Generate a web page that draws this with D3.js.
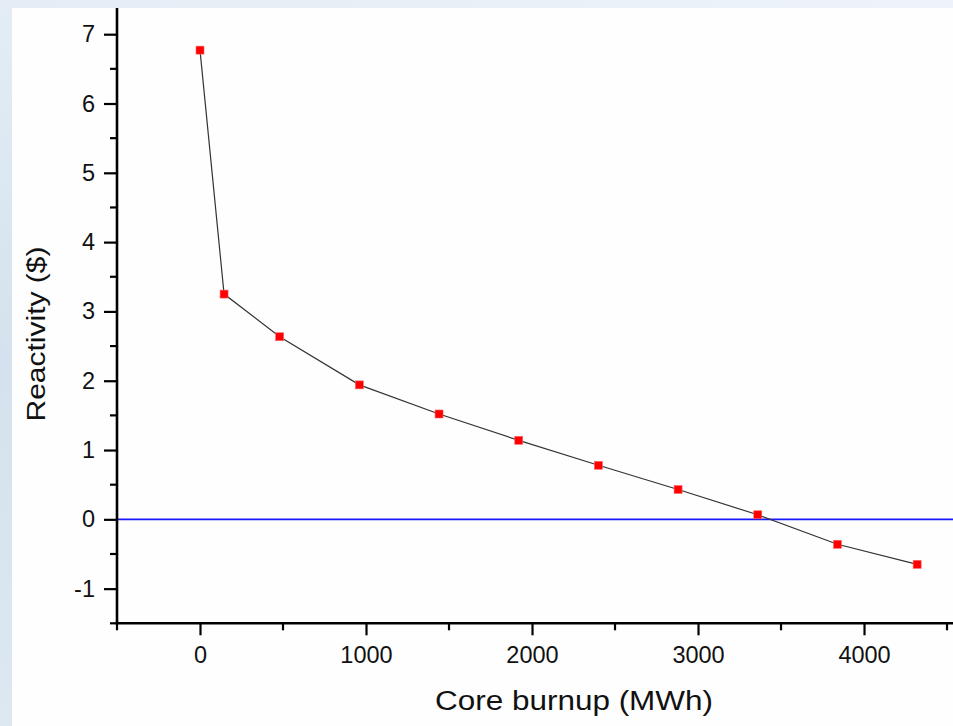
<!DOCTYPE html>
<html><head><meta charset="utf-8">
<script src="https://cdn.jsdelivr.net/npm/d3@7"></script>
<style>html,body{margin:0;padding:0;background:#fff;}svg{display:block;}</style>
</head><body>
<script>
const burnup = [0, 145, 480, 960, 1440, 1920, 2400, 2880, 3360, 3840, 4320];
const reactivity = [6.77, 3.25, 2.635, 1.94, 1.52, 1.14, 0.78, 0.43, 0.066, -0.36, -0.65];
const xTickValues = [0, 1000, 2000, 3000, 4000];
const yTickValues = [-1, 0, 1, 2, 3, 4, 5, 6, 7];
const referenceLevel = [0];

const W = 953, H = 726;
const svg = d3.select("body").append("svg").attr("width", W).attr("height", H);
const defs = svg.append("defs");
const g1 = defs.append("linearGradient").attr("id","bgL").attr("x1","0").attr("y1","0").attr("x2","0").attr("y2","1");
g1.append("stop").attr("offset","0").attr("stop-color","#e4edf5");
g1.append("stop").attr("offset","0.5").attr("stop-color","#d3e2ee");
g1.append("stop").attr("offset","1").attr("stop-color","#dde8f1");
const g2 = defs.append("linearGradient").attr("id","bgT").attr("x1","0").attr("y1","0").attr("x2","1").attr("y2","0");
g2.append("stop").attr("offset","0").attr("stop-color","#e4edf5");
g2.append("stop").attr("offset","1").attr("stop-color","#edf3f9");

svg.append("rect").attr("width",W).attr("height",H).attr("fill","url(#bgT)");
svg.append("rect").attr("width",12).attr("height",H).attr("fill","url(#bgL)");
svg.append("rect").attr("x",12).attr("y",8).attr("width",W-12).attr("height",H-8).attr("fill","#fefefe");

const x = d3.scaleLinear().domain([-500, 4536]).range([117, 953]);
const y = d3.scaleLinear().domain([-1.5, 7.378]).range([623.3, 8]);

// zero line
svg.selectAll(".ref").data(referenceLevel).enter().append("line")
  .attr("x1", x(-500)).attr("x2", W).attr("y1", d=>y(d)).attr("y2", d=>y(d))
  .attr("stroke","#1a1aff").attr("stroke-width",1.6);

// data line
const line = d3.line().x((d,i)=>x(burnup[i])).y(d=>y(d));
svg.append("path").datum(reactivity).attr("d", line).attr("fill","none")
  .attr("stroke","#333").attr("stroke-width",1.2);

svg.selectAll(".pt").data(reactivity).enter().append("rect")
  .attr("x",(d,i)=>x(burnup[i])-4).attr("y",d=>y(d)-4)
  .attr("width",8).attr("height",8).attr("fill","#ff0000")
  .attr("stroke","#ff6666").attr("stroke-width",0.6);

// axes
const font = "'Liberation Sans', Arial, sans-serif";
const fmt = d => String(d);
const xMinor = d3.range(-500, 4600, 500).filter(v=>!xTickValues.includes(v));
const yMinor = d3.range(-1.5, 7.4, 0.5).filter(v=>!yTickValues.includes(v));

const xAxisG = svg.append("g").attr("transform",`translate(0,${y(-1.5)})`);
xAxisG.call(d3.axisBottom(x).tickValues(xTickValues).tickSize(12).tickPadding(11).tickSizeOuter(0).tickFormat(fmt));
xAxisG.call(g=>g.select(".domain").remove());
xAxisG.selectAll(".tick line").attr("stroke","#000").attr("stroke-width",2.2);
xAxisG.selectAll("text").attr("font-family",font).attr("font-size",23.5).attr("fill","#111");
xAxisG.selectAll(".minor").data(xMinor).enter().append("line").attr("class","minor")
  .attr("x1",d=>x(d)).attr("x2",d=>x(d)).attr("y1",0).attr("y2",7).attr("stroke","#000").attr("stroke-width",2.2);

const yAxisG = svg.append("g").attr("transform",`translate(${x(-500)},0)`);
yAxisG.call(d3.axisLeft(y).tickValues(yTickValues).tickSize(13).tickPadding(9).tickSizeOuter(0).tickFormat(fmt));
yAxisG.call(g=>g.select(".domain").remove());
yAxisG.selectAll(".tick line").attr("stroke","#000").attr("stroke-width",2.2);
yAxisG.selectAll("text").attr("font-family",font).attr("font-size",23.5).attr("fill","#111");
yAxisG.selectAll(".minor").data(yMinor).enter().append("line").attr("class","minor")
  .attr("x1",0).attr("x2",-7).attr("y1",d=>y(d)).attr("y2",d=>y(d)).attr("stroke","#000").attr("stroke-width",2.2);

// axis lines
svg.append("line").attr("x1",x(-500)).attr("x2",x(-500)).attr("y1",8).attr("y2",y(-1.5)+1.3)
  .attr("stroke","#000").attr("stroke-width",2.6);
svg.append("line").attr("x1",x(-500)-1.3).attr("x2",W).attr("y1",y(-1.5)).attr("y2",y(-1.5))
  .attr("stroke","#000").attr("stroke-width",2.6);

// titles
svg.append("text").attr("x",574).attr("y",710).attr("text-anchor","middle")
  .attr("font-family",font).attr("font-size",27).attr("fill","#111")
  .attr("textLength",278).attr("lengthAdjust","spacingAndGlyphs")
  .text("Core burnup (MWh)");
svg.append("text").attr("transform","translate(45,334) rotate(-90)").attr("text-anchor","middle")
  .attr("font-family",font).attr("font-size",26.5).attr("fill","#111")
  .attr("textLength",175).attr("lengthAdjust","spacingAndGlyphs")
  .text("Reactivity ($)");
</script>
</body></html>
